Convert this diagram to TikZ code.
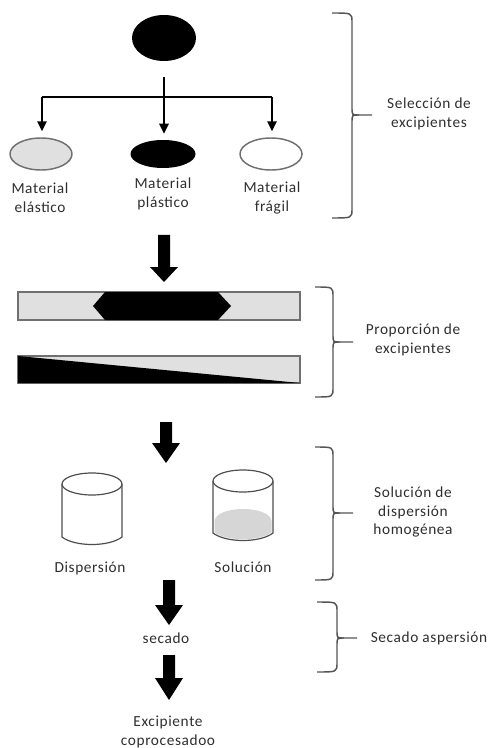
\documentclass[tikz,border=0pt]{standalone}
\usepackage{fontspec}
\setmainfont{Carlito}[LetterSpace=4]
\usetikzlibrary{shapes.geometric,arrows.meta}
\definecolor{txt}{HTML}{2E2E2E}
\definecolor{edgegray}{HTML}{707070}
\definecolor{lgray}{HTML}{E0E0E0}
\definecolor{brc}{HTML}{555555}
\newcommand{\blockarr}[4]{%
  \fill (#1-6,#2) -- (#1+6,#2) -- (#1+6,#3) -- (#1+14,#3) -- (#1,#4) -- (#1-14,#3) -- (#1-6,#3) -- cycle;}
\newcommand{\curlybr}[6]{%
  \draw[bracestyle] (#1,#4) .. controls (#2,#4) .. (#2,#4+9) -- (#2,#5-7) .. controls (#2,#5) .. (#2+7,#5) -- (#3,#5);
  \draw[bracestyle] (#1,#6) .. controls (#2,#6) .. (#2,#6-9) -- (#2,#5+7) .. controls (#2,#5) .. (#2+7,#5);}
\begin{document}
\begin{tikzpicture}[x=0.75pt,y=-0.75pt,
  lbl/.style={text=txt,align=center,font=\fontsize{11.5}{14}\selectfont,inner sep=0pt},
  ell/.style={ellipse,draw=edgegray,line width=1.1pt,inner sep=0pt},
  conn/.style={line width=1.6pt,black},
  arr/.style={conn,-{Triangle[width=7pt,length=7.5pt]}},
  bracestyle/.style={draw=brc,line width=1.1pt},
  bar/.style={draw=edgegray,fill=lgray,line width=0.9pt}]
\useasboundingbox (0,0) rectangle (493,748);

% top selection
\node[ellipse,fill=black,minimum width=48pt,minimum height=34.5pt] (top) at (164,38) {};
\node[ell,fill=lgray,minimum width=46.5pt,minimum height=24pt] (el1) at (41,154) {};
\node[ellipse,fill=black,minimum width=48.75pt,minimum height=21pt] (el2) at (163,154) {};
\node[ell,fill=white,minimum width=46.5pt,minimum height=24pt] (el3) at (271,154) {};
\coordinate (split) at (164,97);
\coordinate (sl) at (42,97);
\coordinate (sr) at (272,97);
\draw[conn,shorten <=12pt] (top.south) -- (split);
\draw[conn] (sl) -- (sr);
\draw[arr,shorten >=4.5pt] (split) -- (split |- el2.north);
\draw[arr,shorten >=4.5pt] (sl) -- (sl |- el1.north);
\draw[arr,shorten >=4.5pt] (sr) -- (sr |- el3.north);

\node[lbl] (lab1) at (40,198) {Material\\elástico};
\node[lbl] (lab2) at (163,194) {Material\\plástico};
\node[lbl] (lab3) at (272,198) {Material\\frágil};

% arrow 1
\blockarr{164}{235}{267}{282}

% bars
\draw[bar] (18,292) rectangle (300,320);
\fill (105,292) -- (218,292) -- (231,306) -- (218,320) -- (105,320) -- (93,306) -- cycle;
\draw[bar] (18,356) rectangle (300,383);
\fill (18,356) -- (300,383) -- (18,383) -- cycle;

% arrow 2
\blockarr{166}{422}{443}{463}

% cylinders
\draw[edgegray!70!black,line width=0.9pt] (62,484) -- (62,537) .. controls (75,547) and (109,547) .. (122,537) -- (122,484);
\draw[edgegray!70!black,line width=0.9pt,fill=white] (92,484) ellipse [x radius=22.5pt, y radius=8.25pt];
\fill[lgray!90!gray] (214.5,521) .. controls (216,505) and (270,505) .. (271.5,521) -- (271.5,532.5) .. controls (259,541.5) and (227,541.5) .. (214.5,532.5) -- cycle;
\draw[edgegray!70!black,line width=0.9pt] (213,481) -- (213,533) .. controls (226,543) and (260,543) .. (273,533) -- (273,481);
\draw[edgegray!70!black,line width=0.9pt,fill=white] (243,481) ellipse [x radius=22.5pt, y radius=8.25pt];

\node[lbl] (disp) at (90,568) {Dispersión};
\node[lbl] (solu) at (243,567) {Solución};

% arrow 3 and 4
\blockarr{169}{580}{605}{625}
\node[lbl] (sec) at (166,638) {secado};
\blockarr{169}{655}{678}{700}
\node[lbl] (exc) at (168,732) {Excipiente\\coprocesadoo};

% braces
\curlybr{332}{352}{372}{13}{115}{218}
\node[lbl] (sel) at (429,114) {Selección de\\excipientes};
\curlybr{315}{333}{353}{287}{342}{397}
\node[lbl] (prop) at (413,340) {Proporción de\\excipientes};
\curlybr{315}{333}{353}{447}{513}{580}
\node[lbl] (sol) at (413,512) {Solución de\\dispersión\\homogénea};
\curlybr{317}{337}{357}{602}{638}{672}
\node[lbl] (secasp) at (429,638) {Secado aspersión};
\end{tikzpicture}
\end{document}
